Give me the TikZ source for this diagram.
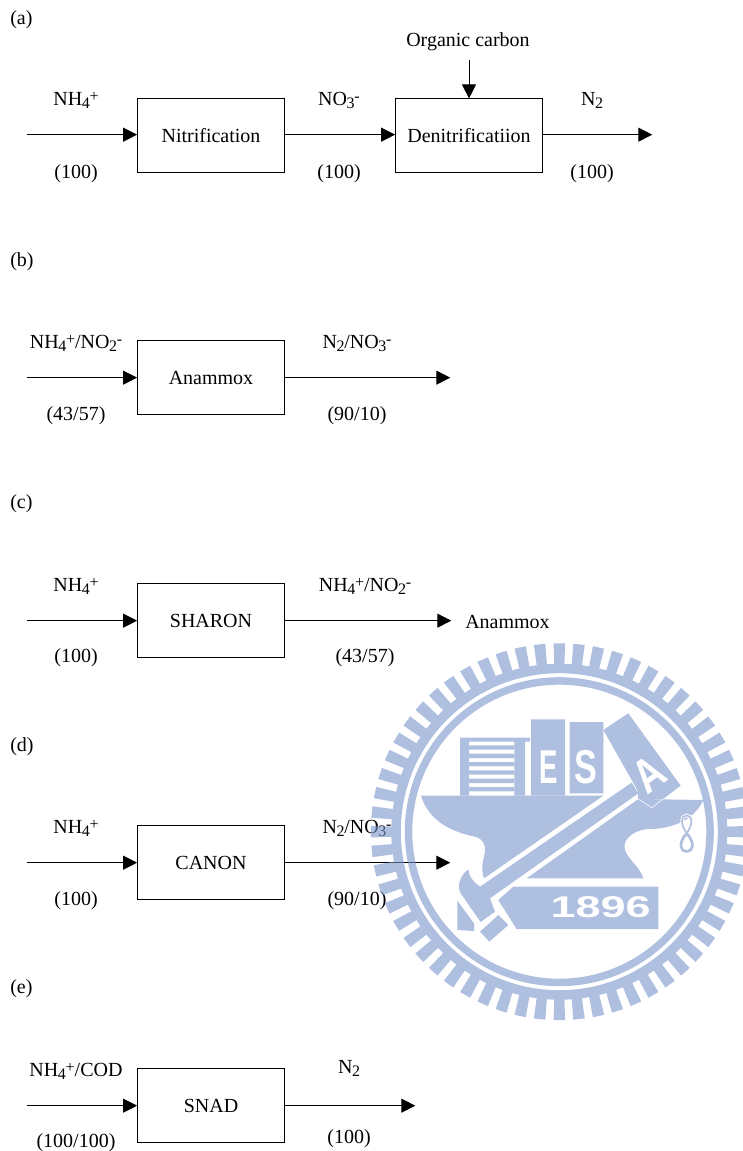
\documentclass[tikz,border=0pt]{standalone}
\usepackage{fontspec}
\setmainfont{Liberation Serif}
\newfontfamily\logofont{Liberation Sans}[BoldFont=* Bold]
\usetikzlibrary{arrows.meta}
\definecolor{wm}{RGB}{123,149,204}
\newcommand{\lowtxt}[1]{\kern-.3pt\raisebox{-0.3ex}{\fontsize{12}{12}\selectfont #1}\kern-.2pt}
\newcommand{\uptxt}[1]{\raisebox{0.42ex}{\fontsize{12}{12}\selectfont #1}}
\newcommand{\ammon}{NH\lowtxt{4}\uptxt{+}}
\newcommand{\nitrate}{NO\lowtxt{3}\uptxt{-}}
\newcommand{\nitrite}{NO\lowtxt{2}\uptxt{-}}
\newcommand{\dinit}{N\lowtxt{2}}
\tikzset{
  every node/.style={font=\fontsize{15}{18}\selectfont},
  procbox/.style={draw=black,line width=.75pt,minimum width=110.5pt,minimum height=55.5pt,inner sep=0pt},
  flow/.style={line width=.75pt,-{Triangle[length=10.5pt,width=10.5pt]},shorten >=-.2pt},
  lab/.style={inner sep=0pt,yshift=-1.1pt},
  tag/.style={inner sep=0pt,anchor=west,yshift=-1.1pt},
  logotxt/.style={text=white,inner sep=0pt,font=\logofont\bfseries\fontsize{35.6}{36}\selectfont},
  thinout/.style={draw=white,line width=.4pt},
}
\begin{document}
\begin{tikzpicture}[x=.75pt,y=-.75pt]
\useasboundingbox (0,0) rectangle (742,1151);
\fill[white] (0,0) rectangle (742,1151);

\begin{scope}[yshift=-.5pt]
% (a)
\node[tag] (ta) at (10,18) {(a)};
\node[procbox] (nit) at (211,135) {Nitrification};
\node[procbox] (den) at (469,135) {Denitrificatiion};
\coordinate (a0) at (27,134);
\coordinate (a3) at (652,134);
\node[lab] (oc) at (468,40) {Organic carbon};
\draw[flow] (a0) -- (a0-|nit.west);
\draw[flow] (a0-|nit.east) -- (a0-|den.west);
\draw[flow] (a0-|den.east) -- (a3);
\draw[flow] (oc.south-|den.north) ++(0,9) -- (den.north);
\node[lab] (a1) at (76,98) {\ammon};
\node[lab] (a2) at (76,172) {(100)};
\node[lab] (a4) at (339,98) {\nitrate};
\node[lab] (a5) at (339,172) {(100)};
\node[lab] (a6) at (592,98) {\dinit};
\node[lab] (a7) at (592,172) {(100)};

% (b)
\node[tag] (tb) at (10,260) {(b)};
\node[procbox] (ana) at (211,377) {Anammox};
\coordinate (b0) at (27,377);
\coordinate (b1) at (450,377);
\draw[flow] (b0) -- (ana.west);
\draw[flow] (ana.east) -- (b1);
\node[lab] (b2) at (76,341) {\ammon/\nitrite};
\node[lab] (b3) at (76,414) {(43/57)};
\node[lab] (b4) at (357,341) {\dinit/\nitrate};
\node[lab] (b5) at (357,414) {(90/10)};

% (c)
\node[tag] (tc) at (10,502) {(c)};
\node[procbox] (sha) at (211,620) {SHARON};
\coordinate (c0) at (27,620);
\coordinate (c1) at (451,620);
\draw[flow] (c0) -- (sha.west);
\draw[flow] (sha.east) -- (c1);
\node[tag] (c6) at (465,620) {Anammox};
\node[lab] (c2) at (76,584) {\ammon};
\node[lab] (c3) at (76,656) {(100)};
\node[lab] (c4) at (365,584) {\ammon/\nitrite};
\node[lab] (c5) at (365,656) {(43/57)};

% (d)
\node[tag] (td) at (10,745) {(d)};
\node[procbox] (can) at (211,862) {CANON};
\coordinate (d0) at (27,862);
\coordinate (d1) at (450,862);
\draw[flow] (d0) -- (can.west);
\draw[flow] (can.east) -- (d1);
\node[lab] (d2) at (76,826) {\ammon};
\node[lab] (d3) at (76,899) {(100)};
\node[lab] (d4) at (357,826) {\dinit/\nitrate};
\node[lab] (d5) at (357,899) {(90/10)};

% (e)
\node[tag] (te) at (10,987) {(e)};
\node[procbox] (sna) at (211,1105) {SNAD};
\coordinate (e0) at (27,1105);
\coordinate (e1) at (415,1105);
\draw[flow] (e0) -- (sna.west);
\draw[flow] (sna.east) -- (e1);
\node[lab] (e2) at (76,1069) {\ammon/COD};
\node[lab] (e3) at (76,1141) {(100/100)};
\node[lab] (e4) at (349,1066) {\dinit};
\node[lab] (e5) at (349,1137) {(100)};
\end{scope}

% watermark
\begin{scope}[transparency group,opacity=.6]
 \begin{scope}[shift={(559.3,831.7)}]
  \fill[wm,even odd rule] (0,0) circle[radius=168] (0,0) circle[radius=158.5];
  \fill[wm,even odd rule] (0,0) circle[radius=154.5] (0,0) circle[radius=147];
  \foreach \a in {0,6,...,354}
    \fill[wm] (\a-1.75:167.5) -- (\a-1.75:188.5) -- (\a+1.75:188.5) -- (\a+1.75:167.5) -- cycle;
 \end{scope}
 \begin{scope}[shift={(360,630)},x=.25pt,y=-.25pt]
  % left book with shelves
  \fill[wm] (300,323) -- (510,323) -- (510,335) -- (495,335) -- (495,497) -- (463,497) -- (463,335)
            -- (327,335) -- (327,497) -- (300,497) -- cycle;
  \foreach \k in {0,...,5} \fill[wm] (327,346+25*\k) rectangle (463,359+25*\k);
  % E and S books
  \fill[wm] (513,268) rectangle (615,497);
  \fill[wm] (629,276) rectangle (730,490);
  \node[logotxt,xscale=.58] (le) at (566,411) {E};
  \node[logotxt,xscale=.72] (ls) at (678,412) {S};
  % anvil, upper part
  \fill[wm] (183,497) -- (730,497) -- (372,745) .. controls (362,715) and (368,700) .. (374,670)
     .. controls (378,645) and (372,628) .. (345,620)
     .. controls (270,605) and (205,570) .. cycle;
  % anvil, lower part
  \fill[wm] (500,745) -- (835,507) -- (1030,510) .. controls (1000,575) and (930,597) .. (865,597)
     .. controls (825,600) and (785,625) .. (795,660)
     .. controls (805,690) and (840,710) .. (850,745) -- cycle;
  % hammer head and handle
  \fill[wm] (325,718) .. controls (326,740) and (340,755) .. (360,770) -- (815,458) -- (835,490)
     -- (390,805) -- (405,845) -- (362,876) -- (302,790)
     .. controls (290,770) and (300,735) .. cycle;
  \fill[wm] (360,905) -- (415,855) -- (445,885) -- (388,935) -- cycle;
  \fill[wm] (292,812) -- (342,880) -- (342,903) -- (292,900) -- cycle;
  % block with A
  \fill[wm] (730,300) -- (805,250) -- (962,467) -- (908,508) -- (835,508) -- (832,480) -- cycle;
  \node[logotxt,rotate=36,xscale=.8] (la) at (868,432) {A};
  % date plate
  \fill[wm] (460,770) -- (895,770) -- (895,897) -- (470,897) -- (415,810) -- cycle;
  \node[logotxt,xscale=1.5,font=\logofont\bfseries\fontsize{22.5}{24}\selectfont] (ly) at (722,830) {1896};
  % chain, a twisted figure of eight
  \draw[white,line width=2.6pt] (982,612) .. controls (960,585) and (962,556) .. (980,556)
     .. controls (998,556) and (1000,585) .. (978,612);
  \draw[wm,line width=1.2pt] (982,612) .. controls (960,585) and (962,556) .. (980,556)
     .. controls (998,556) and (1000,585) .. (978,612);
  \draw[wm,line width=2pt] (982,612) .. controls (1005,640) and (1000,664) .. (980,664)
     .. controls (960,664) and (955,640) .. (978,612);
  % faint outline details
  \draw[thinout] (835,507) -- (875,533) -- (908,508);
  \draw[wm,line width=.3pt] (730,300) -- (716,310) -- (732,334);
  \draw[wm,line width=.3pt] (463,497) -- (463,503) -- (495,503) -- (495,497);
 \end{scope}
\end{scope}
\end{tikzpicture}
\end{document}
